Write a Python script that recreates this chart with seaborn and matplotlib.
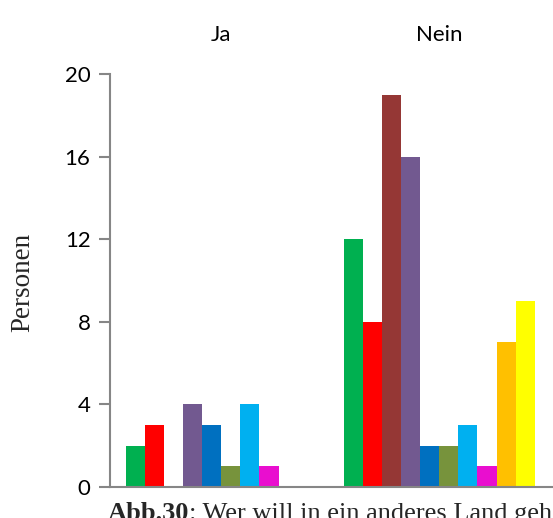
import matplotlib
matplotlib.use("Agg")
import matplotlib.pyplot as plt
import pandas as pd
import seaborn as sns

# data
answers = ["Ja", "Nein"]
groups = ["Gruppe 1", "Gruppe 2", "Gruppe 3", "Gruppe 4", "Gruppe 5",
          "Gruppe 6", "Gruppe 7", "Gruppe 8", "Gruppe 9", "Gruppe 10"]
ja_counts = [2, 3, 0, 4, 3, 1, 4, 1, 0, 0]
nein_counts = [12, 8, 19, 16, 2, 2, 3, 1, 7, 9]
colors = ["#00B050", "#FF0000", "#953735", "#725990", "#0070C0",
          "#77933C", "#00B0F0", "#E90ECF", "#FFC000", "#FFFF00"]
y_ticks = [0, 4, 8, 12, 16, 20]

rows = []
for answer, counts in zip(answers, [ja_counts, nein_counts]):
    for g, c in zip(groups, counts):
        rows.append({"Antwort": answer, "Gruppe": g, "Personen": c})
df = pd.DataFrame(rows)

sns.set_style("white")
plt.rcParams["font.family"] = ["Lato", "DejaVu Sans"]

W, H = 553, 518
fig = plt.figure(figsize=(W / 100, H / 100), dpi=100)
ax = fig.add_axes([110 / W, 31 / H, 443 / W, 413 / H])

sns.barplot(data=df, x="Antwort", y="Personen", hue="Gruppe", hue_order=groups,
            palette=colors, saturation=1, width=0.877, linewidth=0,
            legend=False, ax=ax)

ax.set_xlim(-0.51, 1.522)
ax.set_ylim(0, 20)
ax.set_yticks(y_ticks)
ax.set_xlabel("")
ax.set_ylabel("")
ax.xaxis.tick_top()
ax.tick_params(axis="x", length=0, pad=21, labelsize=16, labelcolor="black")
ax.tick_params(axis="y", length=8, width=1.5, color="#868686", pad=6,
               labelsize=16, labelcolor="black", left=True)
for side in ["top", "right"]:
    ax.spines[side].set_visible(False)
for side in ["left", "bottom"]:
    ax.spines[side].set_color("#868686")
    ax.spines[side].set_linewidth(1.5)

fig.text(23 / W, (H - 282) / H, "Personen", rotation=90, ha="center", va="center",
         family="Liberation Serif", fontsize=19.5)

# caption, cut off at the bottom/right like the reference
t1 = fig.text(108 / W, -2 / H, "Abb.30", family="Liberation Serif", weight="bold",
              fontsize=19, va="baseline")
fig.canvas.draw()
bb = t1.get_window_extent()
fig.text(bb.x1 / fig.bbox.width, -2 / H, ": Wer will in ein anderes Land gehen?",
         family="Liberation Serif", fontsize=19, va="baseline")

fig.savefig("out.png", dpi=100)
